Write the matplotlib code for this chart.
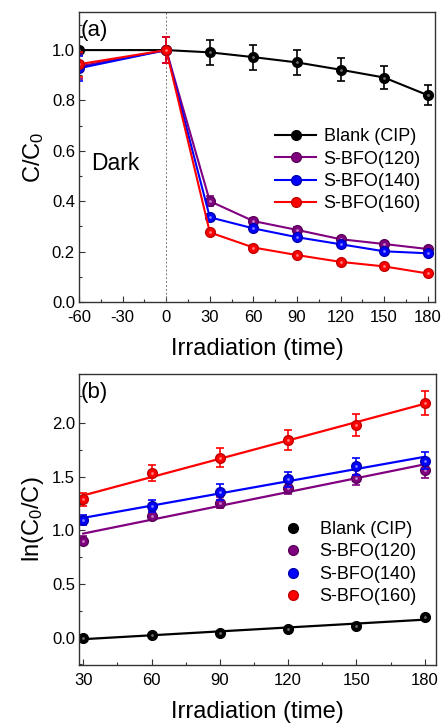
import numpy as np
import matplotlib
matplotlib.use('Agg')
import matplotlib.pyplot as plt

plt.rcParams['font.family'] = ['Liberation Sans', 'DejaVu Sans']
plt.rcParams['mathtext.fontset'] = 'custom'
plt.rcParams['mathtext.rm'] = 'Liberation Sans'
plt.rcParams['mathtext.it'] = 'Liberation Sans:italic'
plt.rcParams['axes.unicode_minus'] = False

# panel (a) data
t_a = [-60, 0, 30, 60, 90, 120, 150, 180]
blank_a = [1.0, 1.0, 0.991, 0.972, 0.951, 0.922, 0.891, 0.821]
blank_a_err = [0.05, 0.05, 0.05, 0.05, 0.048, 0.046, 0.045, 0.04]
s120_a = [0.935, 1.0, 0.40, 0.321, 0.286, 0.249, 0.230, 0.210]
s120_a_err = [0.05, 0.05, 0.02, 0.012, 0.01, 0.01, 0.008, 0.008]
s140_a = [0.928, 1.0, 0.336, 0.292, 0.257, 0.229, 0.201, 0.193]
s140_a_err = [0.05, 0.05, 0.012, 0.01, 0.008, 0.008, 0.008, 0.008]
s160_a = [0.944, 1.0, 0.276, 0.216, 0.186, 0.159, 0.141, 0.113]
s160_a_err = [0.05, 0.05, 0.01, 0.008, 0.008, 0.008, 0.008, 0.008]

# panel (b) data
t_b = [30, 60, 90, 120, 150, 180]
blank_b = [0.0, 0.025, 0.047, 0.081, 0.112, 0.196]
s120_b = [0.905, 1.138, 1.26, 1.40, 1.493, 1.568]
s120_b_err = [0.04, 0.04, 0.05, 0.06, 0.07, 0.08]
s140_b = [1.098, 1.229, 1.359, 1.48, 1.60, 1.649]
s140_b_err = [0.05, 0.06, 0.07, 0.07, 0.08, 0.08]
s160_b = [1.29, 1.54, 1.68, 1.845, 1.985, 2.187]
s160_b_err = [0.06, 0.075, 0.085, 0.095, 0.1, 0.11]

labels = ['Blank (CIP)', 'S-BFO(120)', 'S-BFO(140)', 'S-BFO(160)']
colors = ['black', '#800080', '#0000ff', '#ff0000']
edges = ['#000000', '#5a005a', '#0000b0', '#c00000']
lights = ['#8a8a8a', '#d6a0d6', '#a0a0ff', '#ffa0a0']

fig = plt.figure(figsize=(4.42, 7.24), dpi=100)
ax1 = fig.add_axes([0.179, 0.583, 0.805, 0.40])
ax2 = fig.add_axes([0.179, 0.0815, 0.808, 0.4015])


def style(ax):
    for s in ax.spines.values():
        s.set_color('#333333')
        s.set_linewidth(1.0)
    ax.tick_params(which='both', direction='in', top=False, right=False,
                   labelsize=12, width=0.8, color='#333333', pad=3)
    ax.tick_params(axis='x', which='both', pad=6)
    ax.tick_params(which='major', length=4)
    ax.tick_params(which='minor', length=2.5)


# panel (a)
ax1.axvline(0, color='#777777', ls=(0, (2, 2)), lw=0.7)
data_a = [(blank_a, blank_a_err), (s120_a, s120_a_err), (s140_a, s140_a_err), (s160_a, s160_a_err)]
for (y, e), lab, c, ec, lc in zip(data_a, labels, colors, edges, lights):
    ax1.errorbar(t_a, y, yerr=e, color=c, ls='none', capsize=3, elinewidth=1.2, capthick=1.2)
    ax1.plot(t_a, y, color=c, lw=1.5, marker='o', ms=7, mfc=c, mec=ec, label=lab)
    ax1.plot(t_a, y, ls='none', marker='o', ms=2.0, mfc=lc, mec='none', alpha=0.8)
ax1.set_xlim(-60, 185)
ax1.set_ylim(0, 1.15)
ax1.set_xticks([-60, -30, 0, 30, 60, 90, 120, 150, 180])
ax1.set_xticks(np.arange(-45, 181, 30), minor=True)
ax1.set_yticks([0.0, 0.2, 0.4, 0.6, 0.8, 1.0])
ax1.set_yticks([0.1, 0.3, 0.5, 0.7, 0.9, 1.1], minor=True)
ax1.set_yticklabels(['0.0', '0.2', '0.4', '0.6', '0.8', '1.0'])
ax1.set_xlabel('Irradiation (time)', fontsize=17, labelpad=9)
ax1.set_ylabel(r'C/C$_\mathregular{0}$', fontsize=17, labelpad=4)
ax1.text(0.003, 0.975, '(a)', transform=ax1.transAxes, fontsize=16, va='top', ha='left')
ax1.text(-52, 0.55, 'Dark', fontsize=16.5, va='center')
style(ax1)
ax1.legend(loc='upper left', bbox_to_anchor=(0.53, 0.625), frameon=False, fontsize=13,
           handlelength=2.3, handletextpad=0.4, labelspacing=0.3, borderaxespad=0)

# panel (b)
data_b = [(blank_b, None), (s120_b, s120_b_err), (s140_b, s140_b_err), (s160_b, s160_b_err)]
tb = np.array(t_b)
for (y, e), lab, c, ec, lc in zip(data_b, labels, colors, edges, lights):
    k, b = np.polyfit(tb, y, 1)
    ax2.plot(tb, k * tb + b, color=c, lw=1.6)
    if e is not None:
        ax2.errorbar(t_b, y, yerr=e, color=c, ls='none', capsize=3, elinewidth=1.2, capthick=1.2)
    ax2.plot(t_b, y, ls='none', marker='o', ms=7, mfc=c, mec=ec, label=lab)
    ax2.plot(t_b, y, ls='none', marker='o', ms=2.0, mfc=lc, mec='none', alpha=0.8)
ax2.set_xlim(28.2, 185.1)
ax2.set_ylim(-0.255, 2.457)
ax2.set_xticks(t_b)
ax2.set_xticks(np.arange(45, 181, 30), minor=True)
ax2.set_yticks([0.0, 0.5, 1.0, 1.5, 2.0])
ax2.set_yticks([-0.25, 0.25, 0.75, 1.25, 1.75, 2.25], minor=True)
ax2.set_xlabel('Irradiation (time)', fontsize=17, labelpad=9)
ax2.set_ylabel(r'ln(C$_\mathregular{0}$/C)', fontsize=17, labelpad=4)
ax2.text(0.003, 0.975, '(b)', transform=ax2.transAxes, fontsize=16, va='top', ha='left')
style(ax2)
ax2.legend(loc='upper left', bbox_to_anchor=(0.542, 0.52), frameon=False, fontsize=13,
           handlelength=1.5, handletextpad=0.7, labelspacing=0.3, borderaxespad=0)

fig.savefig('out.png', dpi=100)
